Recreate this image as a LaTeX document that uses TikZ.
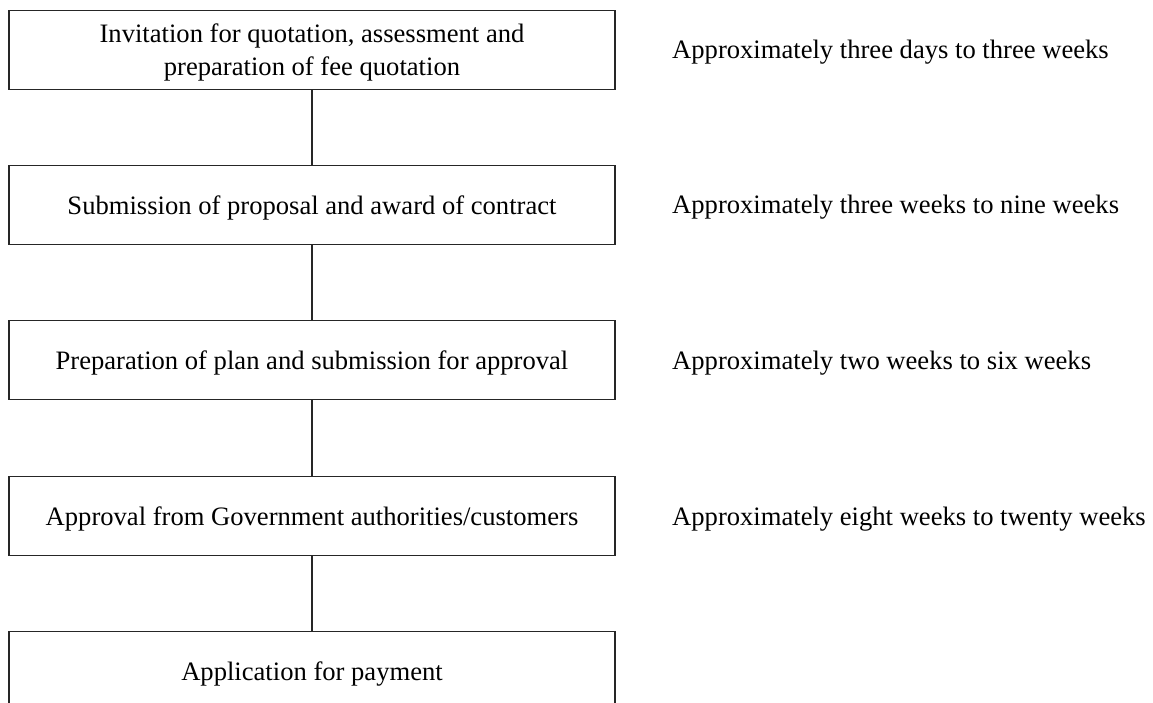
\documentclass[tikz,border=0pt]{standalone}
\usepackage{fontspec}
\setmainfont{Liberation Serif}
\begin{document}
\begin{tikzpicture}[x=1pt,y=-1pt,
  stagebox/.style={draw=black!85, line width=1.1pt, minimum width=606pt, minimum height=79pt,
    align=center, inner sep=0pt, text depth=0pt, font=\fontsize{26.6}{33}\selectfont},
  duration/.style={anchor=base west, inner sep=0pt, font=\fontsize{26.6}{33}\selectfont},
  link/.style={draw=black!85, line width=1.1pt}]
  \useasboundingbox (0,0) rectangle (1153,702);
  \clip (0,0) rectangle (1153,702);

  % process stages
  \node[stagebox] (s1) at (312,50) {Invitation for quotation, assessment and\\preparation of fee quotation};
  \node[stagebox] (s2) at (312,205) {Submission of proposal and award of contract};
  \node[stagebox] (s3) at (312,360) {Preparation of plan and submission for approval};
  \node[stagebox] (s4) at (312,516) {Approval from Government authorities/customers};
  \node[stagebox] (s5) at (312,671) {Application for payment};

  % links between stages
  \draw[link] (s1.south) -- (s2.north);
  \draw[link] (s2.south) -- (s3.north);
  \draw[link] (s3.south) -- (s4.north);
  \draw[link] (s4.south) -- (s5.north);

  % typical durations
  \node[duration] (d1) at (672,58) {Approximately three days to three weeks};
  \node[duration] (d2) at (672,213) {Approximately three weeks to nine weeks};
  \node[duration] (d3) at (672,369) {Approximately two weeks to six weeks};
  \node[duration] (d4) at (672,525) {Approximately eight weeks to twenty weeks};
\end{tikzpicture}
\end{document}
